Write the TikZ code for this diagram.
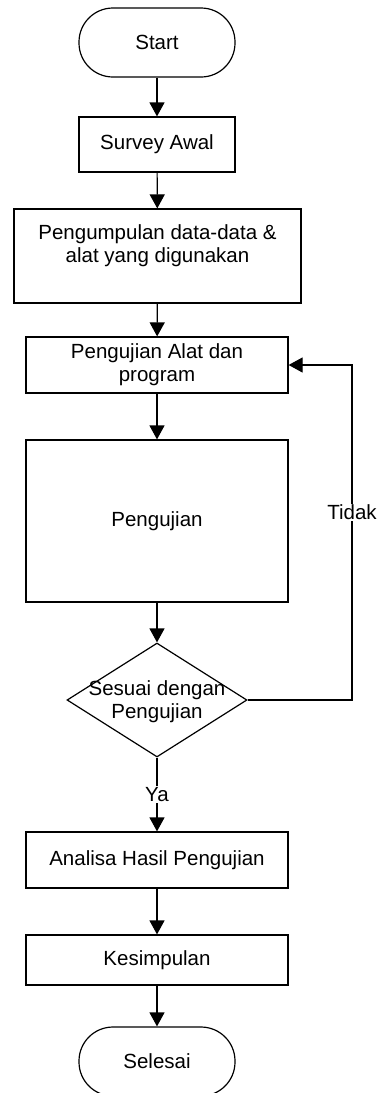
\documentclass[tikz,border=0pt]{standalone}
\usepackage{fontspec}
\setmainfont{Liberation Sans}
\usetikzlibrary{arrows.meta,shapes.geometric}
\begin{document}
\begin{tikzpicture}[x=1pt,y=-1pt,
  every node/.style={font=\fontsize{20.5}{23}\selectfont},
  term/.style={draw,line width=1.2pt,rounded corners=34pt,minimum width=156pt,minimum height=69pt,inner sep=0pt},
  proc/.style={draw,line width=1.2pt,minimum width=262pt,inner sep=0pt,align=center},
  dec/.style={draw,line width=1.2pt,diamond,aspect=1.58,minimum width=180pt,minimum height=114pt,inner sep=0pt},
  lbl/.style={align=center,inner sep=0pt},
  conn/.style={line width=1.2pt,-{Triangle[width=15pt,length=14pt]}},
  line/.style={line width=1.2pt}]
\useasboundingbox (0,0) rectangle (382,1093);
\node[term] (start) at (157,42.5) {Start};
\node[proc,minimum width=156pt,minimum height=55pt] (survey) at (157,144.5) {Survey Awal};
\node[proc,minimum width=287pt,minimum height=94pt] (kumpul) at (157.5,256) {};
\node[lbl] (kumpult) at (157.5,246) {Pengumpulan data-data \&\\alat yang digunakan};
\node[proc,minimum height=56pt] (alat) at (157,365) {Pengujian Alat dan\\program};
\node[proc,minimum height=162pt] (uji) at (157,521) {Pengujian};
\node[dec] (dec) at (157,700) {};
\node[lbl] (dect) at (157,701.5) {Sesuai dengan\\Pengujian};
\node[proc,minimum height=56pt] (analisa) at (157,860) {Analisa Hasil Pengujian};
\node[proc,minimum height=50pt] (kesim) at (157,960) {Kesimpulan};
\node[term] (selesai) at (157,1061.5) {Selesai};
\coordinate (c1) at (352,700);
\coordinate (c2) at (352,365);

\draw[conn] (start) -- (survey);
\draw[conn] (survey) -- (kumpul);
\draw[conn] (kumpul) -- (alat);
\draw[conn] (alat) -- (uji);
\draw[conn] (uji) -- (dec);
\draw[conn] (dec) -- node[fill=white,inner sep=1pt] (ya) {Ya} (analisa);
\draw[conn] (analisa) -- (kesim);
\draw[conn] (kesim) -- (selesai);
\draw[conn] (dec.east) -- (c1) -- node[pos=0.56,fill=white,inner sep=1pt] (tidak) {Tidak} (c2) -- (alat.east);
\end{tikzpicture}
\end{document}
